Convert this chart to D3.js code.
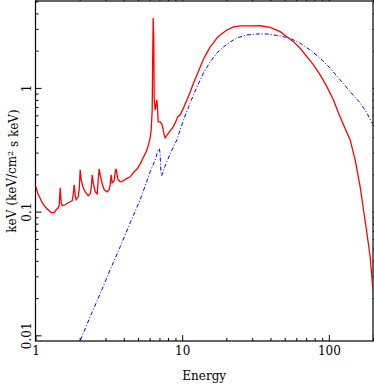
<!DOCTYPE html>
<html>
<head>
<meta charset="utf-8">
<script src="https://cdn.jsdelivr.net/npm/d3@7"></script>
<style>
  body { margin: 0; background: #fff; }
  svg text { font-family: "DejaVu Serif", serif; fill: #000; }
</style>
</head>
<body>
<div id="chart"></div>
<script>
// total model (red) - energy in keV, flux in keV (keV/cm2 s keV)
const redE = [1.0, 1.04, 1.08, 1.11, 1.165, 1.22, 1.28, 1.34, 1.384, 1.428, 1.451, 1.474, 1.497, 1.521,
  1.594, 1.671, 1.724, 1.779, 1.807, 1.836, 1.865, 1.894, 1.955, 1.986, 2.017, 2.049, 2.114, 2.183,
  2.287, 2.36, 2.398, 2.435, 2.474, 2.553, 2.634, 2.676, 2.718, 2.761, 2.849, 2.94, 3.082, 3.18, 3.23,
  3.281, 3.333, 3.439, 3.494, 3.549, 3.606, 3.663, 3.78, 3.961, 4.152, 4.421, 4.634, 4.935, 5.172,
  5.423, 5.683, 5.864, 6.052, 6.148, 6.245, 6.294, 6.344, 6.404, 6.444, 6.546, 6.65, 6.722, 6.808,
  6.862, 7.079, 7.305, 7.538, 7.657, 7.901, 8.283, 8.684, 9.102, 9.29, 9.692, 10.21, 10.77, 11.34,
  11.94, 12.6, 13.27, 13.97, 14.74, 15.52, 16.35, 17.24, 18.16, 20.17, 22.37, 24.86, 29.08, 34.02,
  39.81, 46.56, 51.73, 57.38, 63.74, 70.8, 78.53, 87.26, 96.92, 107.5, 116.3, 125.8, 139.7, 151.1,
  163.5, 172.2, 181.6, 191.2, 196.4, 200];
const redF = [0.162, 0.139, 0.127, 0.118, 0.109, 0.1035, 0.098, 0.098, 0.1035, 0.1074, 0.1136, 0.1558,
  0.1179, 0.1115, 0.1136, 0.1179, 0.1201, 0.1224, 0.1368, 0.1647, 0.1342, 0.1247, 0.1318, 0.1501,
  0.2177, 0.1808, 0.1558, 0.1446, 0.1342, 0.1394, 0.1558, 0.1984, 0.1709, 0.1446, 0.1394, 0.1808,
  0.2218, 0.1984, 0.1679, 0.1501, 0.1446, 0.1501, 0.1647, 0.1984, 0.1709, 0.1774, 0.2098, 0.2218,
  0.1948, 0.1808, 0.1742, 0.1774, 0.1842, 0.1911, 0.206, 0.2218, 0.2434, 0.2722, 0.3042, 0.3401,
  0.3948, 0.458, 0.6643, 1.683, 3.674, 2.441, 0.8, 0.664, 0.7427, 0.8, 0.64, 0.5313, 0.531, 0.5026,
  0.4174, 0.3948, 0.4174, 0.4496, 0.4843, 0.5415, 0.5833, 0.6053, 0.6896, 0.8, 0.928, 1.097, 1.273,
  1.478, 1.714, 1.917, 2.143, 2.309, 2.533, 2.679, 2.94, 3.108, 3.167, 3.17, 3.18, 3.09, 2.849, 2.595,
  2.365, 2.092, 1.789, 1.533, 1.273, 1.024, 0.8, 0.628, 0.503, 0.38, 0.262, 0.1587, 0.1035, 0.0675,
  0.0432, 0.0298, 0.0221];

// component (blue, dash-dot)
const blueE = [1.95, 2.017, 2.36, 2.761, 3.23, 3.78, 4.421, 5.172, 6.052, 6.546, 6.862, 7.003, 7.079,
  7.157, 7.248, 7.657, 8.283, 9.203, 10.21, 11.34, 12.6, 13.97, 15.52, 17.24, 19.12, 21.24, 23.6,
  27.61, 32.3, 37.8, 46.56, 54.48, 63.74, 74.59, 87.26, 102.1, 119.4, 139.7, 163.5, 181.6, 200];
const blueF = [0.0078, 0.00906, 0.01416, 0.02171, 0.03392, 0.05202, 0.08128, 0.1247, 0.2098, 0.2622,
  0.3158, 0.3218, 0.2877, 0.2098, 0.1948, 0.2345, 0.2932, 0.3803, 0.5516, 0.7565, 1.019, 1.322,
  1.622, 1.917, 2.143, 2.352, 2.533, 2.679, 2.729, 2.729, 2.63, 2.519, 2.296, 2.027, 1.738, 1.442,
  1.16, 0.933, 0.7565, 0.628, 0.503];

// ticks
const xMajor = [1, 10, 100];
const xMinor = [2, 3, 4, 5, 6, 7, 8, 9, 20, 30, 40, 50, 60, 70, 80, 90, 200];
const yMajor = [0.01, 0.1, 1];
const yMinor = [0.02, 0.03, 0.04, 0.05, 0.06, 0.07, 0.08, 0.09, 0.2, 0.3, 0.4, 0.5, 0.6, 0.7, 0.8, 0.9, 2, 3, 4, 5];
const xLabels = ["1", "10", "100"];
const yLabels = ["0.01", "0.1", "1"];

const width = 374, height = 384;
const margin = { top: 1, right: 1, bottom: 43, left: 35.5 };
const majorLen = 6, minorLen = 3;

const svg = d3.select("#chart").append("svg")
  .attr("width", width)
  .attr("height", height);

const x = d3.scaleLog().domain([1, 200]).range([margin.left, width - margin.right]);
const y = d3.scaleLog().domain([0.009, 5.04]).range([height - margin.bottom, margin.top]);

const x0 = margin.left, x1 = width - margin.right;
const y0 = height - margin.bottom, y1 = margin.top;

svg.append("clipPath").attr("id", "clip")
  .append("rect")
  .attr("x", x0).attr("y", y1)
  .attr("width", x1 - x0).attr("height", y0 - y1);

// AXES - inward ticks on all four sides
function tickAxis(axisFn, scale, values, len, tr) {
  const g = svg.append("g")
    .attr("transform", tr)
    .call(axisFn(scale).tickValues(values).tickSize(-len).tickSizeOuter(0).tickFormat(""));
  g.select(".domain").remove();
  g.selectAll("line").attr("stroke", "#000").attr("stroke-width", 1);
  return g;
}
tickAxis(d3.axisBottom, x, xMinor, minorLen, `translate(0,${y0})`);
tickAxis(d3.axisTop, x, xMinor, -minorLen, `translate(0,${y1})`);
tickAxis(d3.axisLeft, y, yMinor, minorLen, `translate(${x0},0)`);
tickAxis(d3.axisRight, y, yMinor, -minorLen, `translate(${x1},0)`);
tickAxis(d3.axisTop, x, xMajor, -majorLen, `translate(0,${y1})`);
tickAxis(d3.axisRight, y, yMajor, -majorLen, `translate(${x1},0)`);

const xAxis = svg.append("g")
  .attr("transform", `translate(0,${y0})`)
  .call(d3.axisBottom(x).tickValues(xMajor).tickSize(-majorLen).tickSizeOuter(0)
    .tickPadding(5).tickFormat((d, i) => xLabels[i]));
xAxis.select(".domain").remove();
xAxis.selectAll("text").style("font-size", "12px").style("font-family", "DejaVu Serif");

const yAxis = svg.append("g")
  .attr("transform", `translate(${x0},0)`)
  .call(d3.axisLeft(y).tickValues(yMajor).tickSize(-majorLen).tickSizeOuter(0)
    .tickFormat((d, i) => yLabels[i]));
yAxis.select(".domain").remove();
yAxis.selectAll("text")
  .attr("x", 0).attr("y", 0).attr("dy", null)
  .attr("text-anchor", "middle")
  .attr("transform", "translate(-5,0) rotate(-90)")
  .style("font-size", "12px").style("font-family", "DejaVu Serif");

// frame
svg.append("rect")
  .attr("x", x0).attr("y", y1)
  .attr("width", x1 - x0).attr("height", y0 - y1)
  .attr("fill", "none").attr("stroke", "#000").attr("stroke-width", 1.2);

// axis titles
svg.append("text")
  .attr("x", (x0 + x1) / 2).attr("y", 380)
  .attr("text-anchor", "middle")
  .style("font-size", "12px")
  .text("Energy");

const yTitle = svg.append("text")
  .attr("transform", `translate(16,${(y0 + y1) / 2}) rotate(-90)`)
  .attr("text-anchor", "middle")
  .style("font-size", "12px");
yTitle.append("tspan").text("keV (keV/cm");
yTitle.append("tspan").attr("dy", "-0.4em").style("font-size", "8px").text("2");
yTitle.append("tspan").attr("dy", "0.4em").text(" s keV)");

// LINES
const line = d3.line().x(d => x(d[0])).y(d => y(d[1]));
const redData = d3.zip(redE, redF);
const blueData = d3.zip(blueE, blueF);

const plot = svg.append("g").attr("clip-path", "url(#clip)");
plot.append("path")
  .datum(blueData)
  .attr("d", line)
  .attr("fill", "none")
  .attr("stroke", "#0000ff")
  .attr("stroke-width", 1)
  .attr("stroke-dasharray", "4,2,1,2");
plot.append("path")
  .datum(redData)
  .attr("d", line)
  .attr("fill", "none")
  .attr("stroke", "#ff0000")
  .attr("stroke-width", 1.3);
</script>
</body>
</html>
